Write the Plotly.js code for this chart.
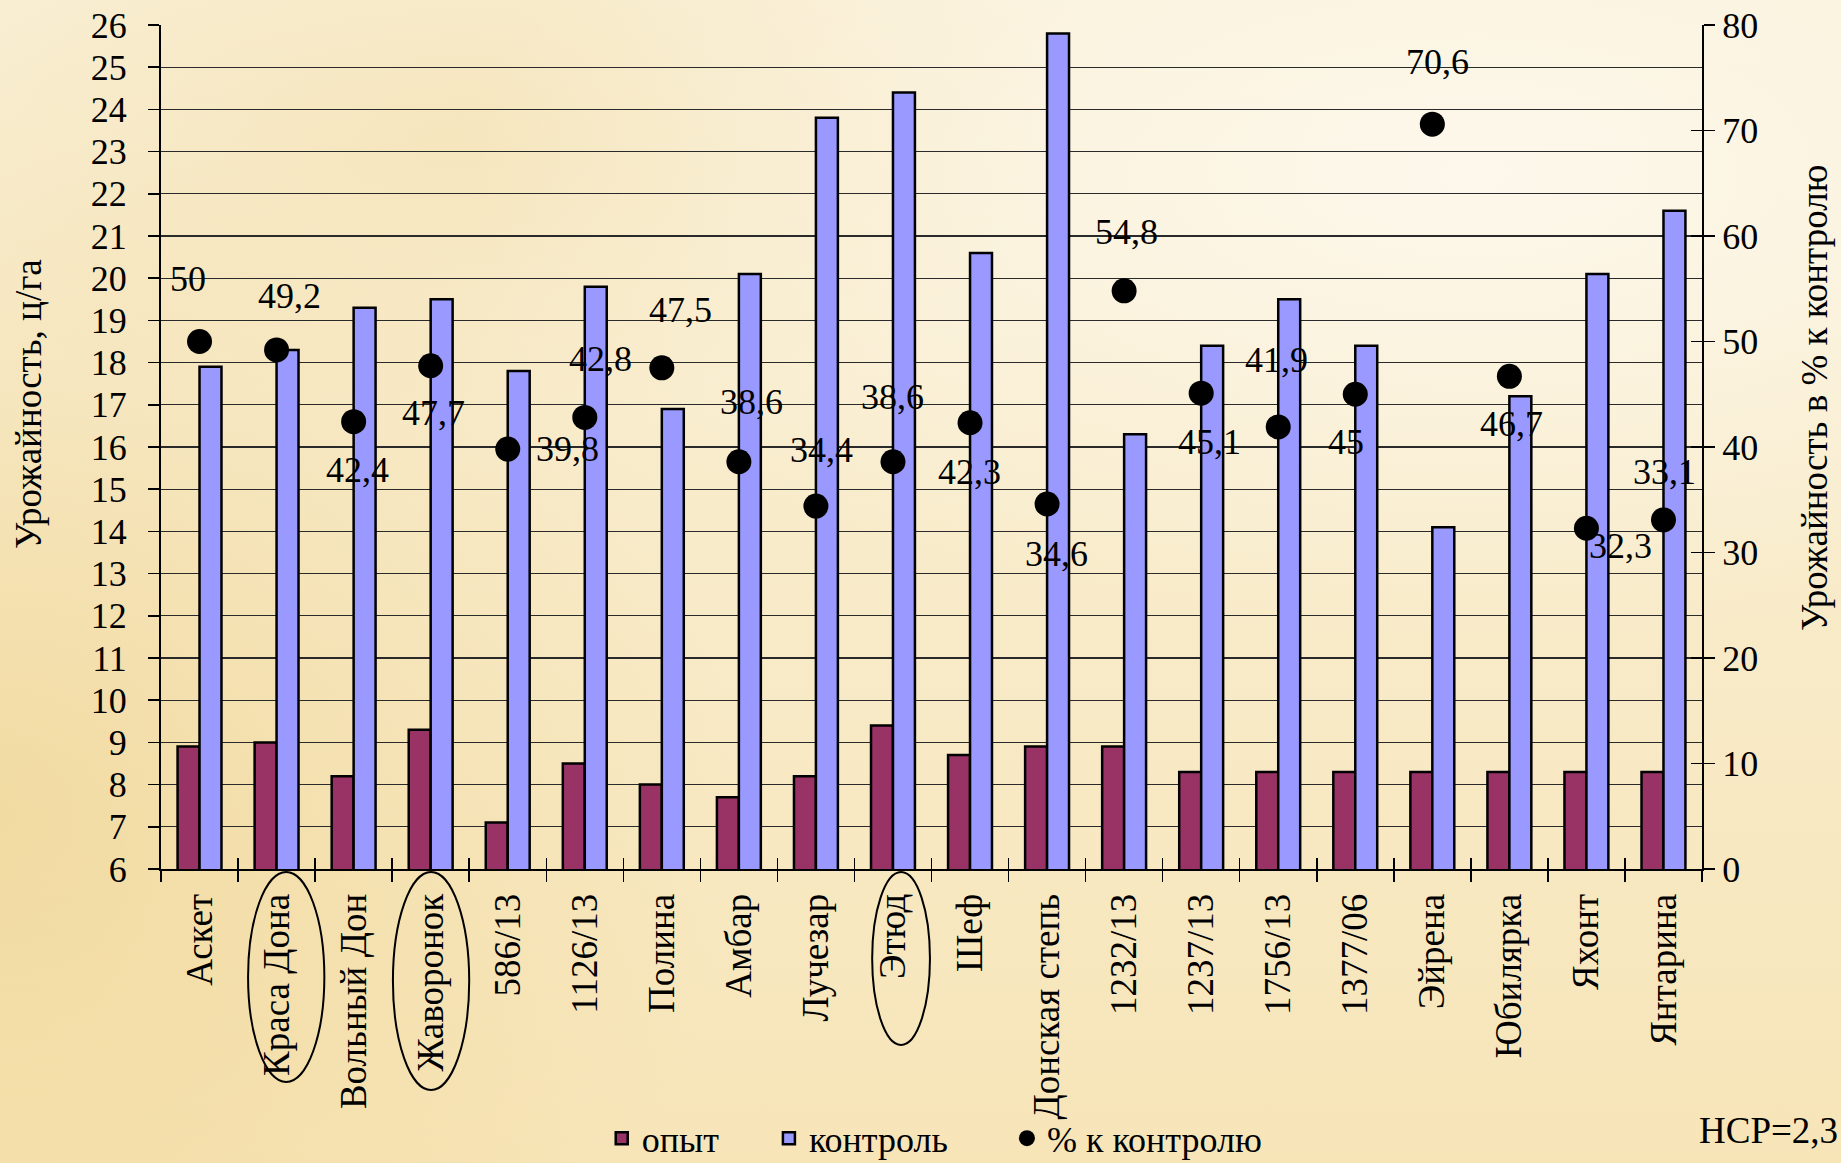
<!DOCTYPE html>
<html>
<head>
<meta charset="utf-8">
<script src="https://cdn.plot.ly/plotly-3.0.1.min.js"></script>
<style>
  html, body { margin: 0; padding: 0; }
  body {
    width: 1841px; height: 1163px; overflow: hidden;
    background:
      radial-gradient(ellipse 55% 40% at 80% 15%, rgba(253,249,238,0.9) 0%, rgba(253,249,238,0) 100%),
      radial-gradient(ellipse 40% 60% at 0% 70%, rgba(236,205,130,0.5) 0%, rgba(236,205,130,0) 100%),
      radial-gradient(ellipse 35% 25% at 25% 12%, rgba(240,214,150,0.35) 0%, rgba(240,214,150,0) 100%),
      linear-gradient(180deg, #f9efd5 0%, #f8eac6 60%, #f7e5b8 100%);
  }
  #chart { width: 1841px; height: 1163px; }
</style>
</head>
<body>
<div id="chart"></div>
<script>
// Сорта и линии
const varieties = ["Аскет", "Краса Дона", "Вольный Дон", "Жаворонок", "586/13", "1126/13",
  "Полина", "Амбар", "Лучезар", "Этюд", "Шеф", "Донская степь", "1232/13", "1237/13",
  "1756/13", "1377/06", "Эйрена", "Юбилярка", "Яхонт", "Янтарина"];

// Урожайность, ц/га
const trial = [8.9, 9.0, 8.2, 9.3, 7.1, 8.5, 8.0, 7.7, 8.2, 9.4, 8.7, 8.9, 8.9, 8.3,
  8.3, 8.3, 8.3, 8.3, 8.3, 8.3];
const control = [17.9, 18.3, 19.3, 19.5, 17.8, 19.8, 16.9, 20.1, 23.8, 24.4, 20.6, 25.8,
  16.3, 18.4, 19.5, 18.4, 14.1, 17.2, 20.1, 21.6];

// Урожайность в % к контролю
const pctOfControl = [50, 49.2, 42.4, 47.7, 39.8, 42.8, 47.5, 38.6, 34.4, 38.6, 42.3, 34.6,
  54.8, 45.1, 41.9, 45, 70.6, 46.7, 32.3, 33.1];

// Highlighted varieties (circled on the axis)
const highlighted = ["Краса Дона", "Жаворонок", "Этюд"];

// Ellipse extents around the highlighted names: [left, right] in category units
// relative to the category centre, [top, bottom] in px below the axis line
const ringX = [[-0.37, 0.62], [-0.49, 0.50], [-0.27, 0.48]];
const ringY = [[3, 213], [3, 221], [3, 176]];

// Pixel offsets [dx, dy(up)] of each percentage label from its marker
const labelShift = [[-12, 63], [13, 54], [4, -48], [3, -47], [60, 0], [16, 58], [19, 58],
  [13, 60], [6, 56], [0, 65], [-1, -49], [9, -50], [2, 59], [8, -49], [-2, 67], [-9, -48],
  [5, 62], [2, -48], [34, -18], [1, 48]];

const FONT = 'Liberation Serif, Times New Roman, serif';
const fmt = v => String(v).replace('.', ',');
const NB = '\u00a0';

const traces = [
  {
    type: 'bar', name: 'опыт' + NB.repeat(5), x: varieties, y: trial,
    marker: { color: '#993366', line: { color: '#000', width: 2.5 } },
    hoverinfo: 'x+y'
  },
  {
    type: 'bar', name: 'контроль' + NB.repeat(6), x: varieties, y: control,
    marker: { color: '#9999ff', line: { color: '#000', width: 2.5 } },
    hoverinfo: 'x+y'
  },
  {
    type: 'scatter', mode: 'markers', name: '% к контролю', x: varieties, y: pctOfControl,
    yaxis: 'y2', marker: { color: '#000', size: 25 },
    hoverinfo: 'x+y'
  },
  // carries the inner halves of the crossing tick marks
  {
    type: 'scatter', mode: 'markers', x: varieties, y: pctOfControl,
    xaxis: 'x2', yaxis: 'y3', marker: { opacity: 0 },
    showlegend: false, hoverinfo: 'skip'
  }
];

const annotations = pctOfControl.map((v, i) => ({
  x: varieties[i], y: v, xref: 'x', yref: 'y2',
  text: fmt(v), showarrow: false,
  xshift: labelShift[i][0], yshift: labelShift[i][1],
  font: { family: FONT, size: 36, color: '#000' }
}));

// axis titles
annotations.push({
  xref: 'paper', yref: 'paper', x: -0.0857, y: 0.551, xanchor: 'center', yanchor: 'middle',
  text: 'Урожайность, ц/га', textangle: -90, showarrow: false,
  font: { family: FONT, size: 37, color: '#000' }
});
annotations.push({
  xref: 'paper', yref: 'paper', x: 1.0727, y: 0.558, xanchor: 'center', yanchor: 'middle',
  text: 'Урожайность в % к контролю', textangle: -90, showarrow: false,
  font: { family: FONT, size: 37, color: '#000' }
});

annotations.push({
  xref: 'paper', yref: 'paper', x: 0.997, y: -0.31, xanchor: 'left', yanchor: 'middle',
  text: 'НСР=2,3', showarrow: false,
  font: { family: FONT, size: 37, color: '#000' }
});

// ellipses around highlighted variety names
const plotH = 1163 - 25 - 294;
const shapes = highlighted.map((name, k) => {
  const i = varieties.indexOf(name);
  return {
    type: 'circle', xref: 'x', yref: 'paper',
    x0: i + ringX[k][0], x1: i + ringX[k][1],
    y0: -ringY[k][1] / plotH, y1: -ringY[k][0] / plotH,
    line: { color: '#000', width: 2 }
  };
});

const layout = {
  width: 1841, height: 1163,
  margin: { l: 161, r: 139, t: 25, b: 294, autoexpand: false },
  paper_bgcolor: 'rgba(0,0,0,0)',
  plot_bgcolor: 'rgba(0,0,0,0)',
  font: { family: FONT, size: 36, color: '#000' },
  barmode: 'group', bargap: 0.43, bargroupgap: 0,
  showlegend: true,
  legend: {
    orientation: 'h', x: 0.286, xanchor: 'left', y: -0.319, yanchor: 'middle',
    font: { family: FONT, size: 36, color: '#000' }, bgcolor: 'rgba(0,0,0,0)',
    itemwidth: 30
  },
  xaxis: {
    type: 'category', categoryorder: 'array', categoryarray: varieties,
    range: [-0.5, 19.5], tickangle: -90, automargin: false,
    tickson: 'boundaries', ticks: 'outside', ticklen: 11, tickwidth: 1.5, tickcolor: '#000',
    ticklabelstandoff: 8,
    showline: true, linecolor: '#000', linewidth: 2, showgrid: false,
    tickfont: { family: FONT, size: 37, color: '#000' }
  },
  xaxis2: {
    type: 'category', categoryorder: 'array', categoryarray: varieties,
    range: [-0.5, 19.5], overlaying: 'x', anchor: 'y3', side: 'bottom', automargin: false,
    tickson: 'boundaries', ticks: 'inside', ticklen: 11, tickwidth: 1.5, tickcolor: '#000',
    showticklabels: false, showgrid: false, showline: false
  },
  yaxis: {
    range: [6, 26], dtick: 1, tick0: 6, automargin: false,
    ticks: 'outside', ticklen: 11, tickwidth: 1.5, tickcolor: '#000',
    ticklabelstandoff: 14,
    showline: true, linecolor: '#000', linewidth: 2,
    showgrid: true, gridcolor: '#2a2a2a', gridwidth: 1.2, zeroline: false,
    tickfont: { family: FONT, size: 36, color: '#000' }
  },
  yaxis2: {
    overlaying: 'y', side: 'right', range: [0, 80], dtick: 10, tick0: 0, automargin: false,
    ticks: 'outside', ticklen: 11, tickwidth: 1.5, tickcolor: '#000',
    showline: true, linecolor: '#000', linewidth: 2,
    showgrid: false, zeroline: false,
    tickfont: { family: FONT, size: 36, color: '#000' }
  },
  yaxis3: {
    overlaying: 'y', side: 'right', anchor: 'x2', range: [0, 80], dtick: 10, tick0: 0,
    automargin: false,
    ticks: 'inside', ticklen: 11, tickwidth: 1.5, tickcolor: '#000',
    showticklabels: false, showgrid: false, showline: false, zeroline: false
  },
  annotations: annotations,
  shapes: shapes
};

Plotly.newPlot('chart', traces, layout, { displayModeBar: false, staticPlot: true });
</script>
</body>
</html>
